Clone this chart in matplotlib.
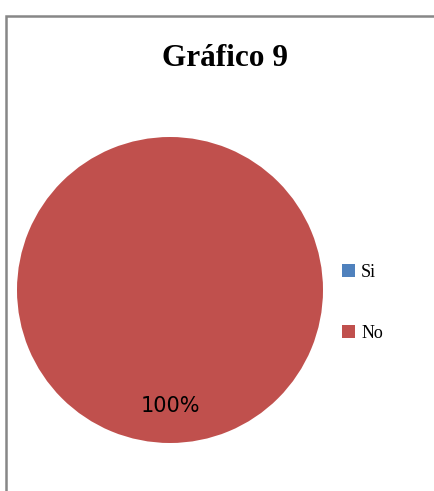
import matplotlib.pyplot as plt
from matplotlib.patches import Rectangle

# datos del grafico 9
categorias = ["Si", "No"]
valores = [0, 100]
colores = ["#4F81BD", "#C0504D"]
titulo = "Gráfico 9"

fig = plt.figure(figsize=(4.34, 4.91), dpi=100)

# marco gris del area del grafico
fig.patches.append(Rectangle((6 / 434, -0.1), 1.2, 1.1 - 16 / 491, transform=fig.transFigure,
                             fill=False, edgecolor="#878787", linewidth=1.8))

ax = fig.add_axes([17 / 434, 48 / 491, 306 / 434, 306 / 491])


def etiqueta(p):
    if p < 0.5:
        return ""
    return "%.0f%%" % p


wedges, textos, pct = ax.pie(valores, colors=colores, startangle=90, counterclock=False,
                             autopct=etiqueta, pctdistance=0.76,
                             textprops={"fontsize": 15, "family": "DejaVu Sans"})
ax.set_xlim(-1, 1)
ax.set_ylim(-1, 1)
ax.set_aspect("equal")

fig.text(225 / 434, 1 - 58 / 491, titulo, ha="center", va="center",
         fontsize=22.5, fontweight="bold", family="Liberation Serif")

fig.legend(wedges, categorias, loc="center left", bbox_to_anchor=(326 / 434, 1 - 303 / 491),
           frameon=False, prop={"family": "Liberation Serif", "size": 13},
           handlelength=0.7, handleheight=0.7, handletextpad=0.35, labelspacing=2.45)

fig.savefig("out.png", dpi=100)
